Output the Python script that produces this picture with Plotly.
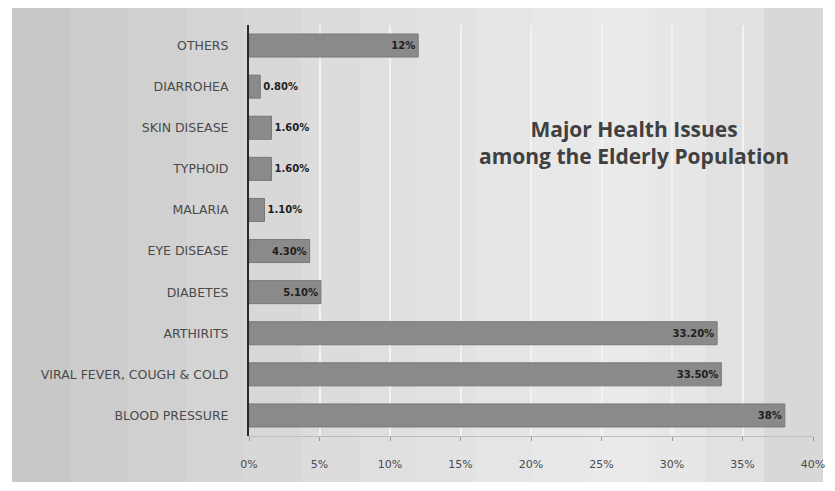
import plotly.graph_objects as go

categories = ["BLOOD PRESSURE", "VIRAL FEVER, COUGH & COLD", "ARTHIRITS", "DIABETES",
              "EYE DISEASE", "MALARIA", "TYPHOID", "SKIN DISEASE", "DIARROHEA", "OTHERS"]
values = [38, 33.5, 33.2, 5.1, 4.3, 1.1, 1.6, 1.6, 0.8, 12]
labels = ["38%", "33.50%", "33.20%", "5.10%", "4.30%", "1.10%", "1.60%", "1.60%", "0.80%", "12%"]
x_ticks = [0, 5, 10, 15, 20, 25, 30, 35, 40]

# page body has an 8px margin; figure is sized to fill the rest of the window
OFF = 8
W, H = 835 - OFF, 491 - OFF
L, R, T, B = 249 - OFF, 22, 25 - OFF, 55
pw, ph = W - L - R, H - T - B

positions = ["inside" if v >= 4 else "outside" for v in values]
FONT = "DejaVu Sans, Arial"

fig = go.Figure(go.Bar(
    y=categories, x=values, orientation="h",
    text=labels, textposition=positions, insidetextanchor="end",
    constraintext="none", cliponaxis=False,
    textfont=dict(family=FONT, size=10, color="#1e1e1e", weight="bold"),
    marker=dict(color="#8a8a8a", line=dict(color="#787878", width=1)),
    width=0.56,
))

# background gradient bands (chart area), in page pixels
x0, x1, y0, y1 = 12, 822, 7, 482
shades = ["#c8c8c8", "#cccccc", "#d0d0d0", "#d4d4d4", "#d8d8d8", "#dcdcdc", "#dfdfdf",
          "#e2e2e2", "#e5e5e5", "#e8e8e8", "#eaeaea", "#e7e7e7", "#e1e1e1", "#d8d8d8"]
n = len(shades)

def px2x(p):
    return (p - OFF - L) / pw

def py2y(p):
    return (H - (p - OFF) - B) / ph

shapes = []
for i, c in enumerate(shades):
    a = x0 + (x1 - x0) * i / n
    b = x0 + (x1 - x0) * (i + 1) / n + 1
    shapes.append(dict(type="rect", xref="paper", yref="paper", layer="below",
                       x0=px2x(a), x1=px2x(b), y0=py2y(y1), y1=py2y(y0),
                       fillcolor=c, line=dict(width=0)))

fig.update_layout(
    width=W, height=H,
    margin=dict(l=L, r=R, t=T, b=B, autoexpand=False),
    paper_bgcolor="white", plot_bgcolor="rgba(0,0,0,0)",
    shapes=shapes,
    showlegend=False,
    bargap=0.44,
    xaxis=dict(range=[0, 40], tickvals=x_ticks, ticktext=[f"{t}%" for t in x_ticks],
               showgrid=True, gridcolor="#f2f2f2", gridwidth=2, zeroline=False,
               showline=True, linecolor="#bdbdbd", linewidth=1,
               ticks="outside", ticklen=4, tickcolor="#9a9a9a",
               ticklabelstandoff=14,
               tickfont=dict(family=FONT, size=11, color="#4a4a4a"),
               fixedrange=True),
    yaxis=dict(showgrid=False, showline=True, linecolor="#2a2a2a", linewidth=2,
               ticks="", ticklabelstandoff=16,
               tickfont=dict(family=FONT, size=12.5, color="#4a4a4a"),
               fixedrange=True),
    annotations=[dict(
        text="<b>Major Health Issues<br>among the Elderly Population</b>",
        xref="paper", yref="paper", x=px2x(634), y=py2y(142),
        xanchor="center", yanchor="middle",
        showarrow=False, align="center",
        font=dict(family="Open Sans, Arial", size=21, color="#404040"))],
)

fig.write_html("out.html")
